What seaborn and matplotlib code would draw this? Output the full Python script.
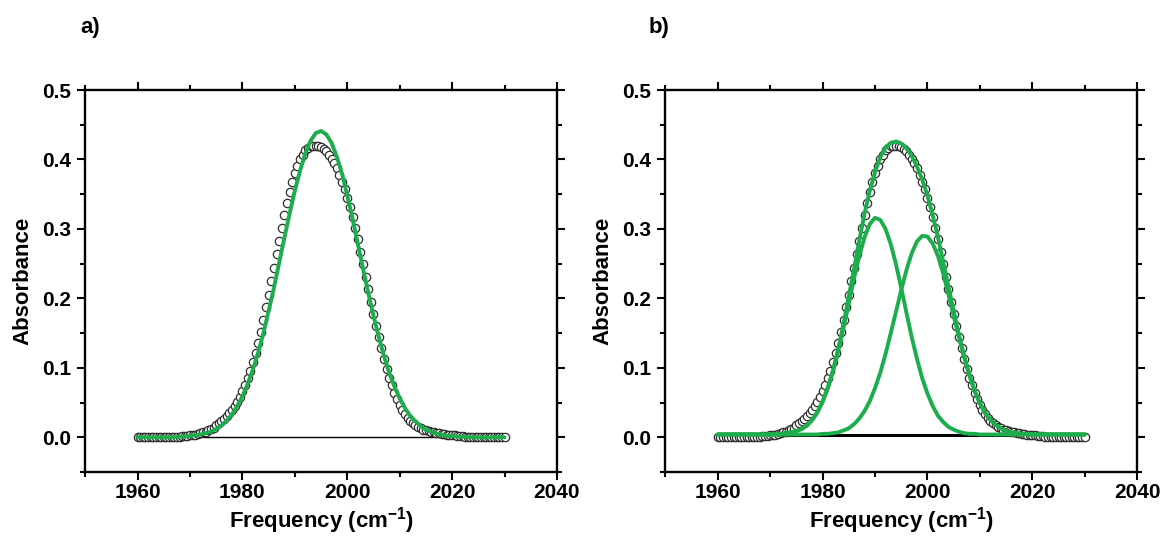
import numpy as np
import matplotlib
matplotlib.use('Agg')
import matplotlib.pyplot as plt
from matplotlib.ticker import MultipleLocator, FormatStrFormatter
import seaborn as sns

# --- data ---
# measured spectrum (open circles), every 0.5 cm-1 from 1960 to 2030
freq_data = np.arange(1960, 2030.5, 0.5)
absorbance = [
    0.000, 0.000, 0.000, 0.000, 0.000, 0.000, 0.000, 0.000, 0.000, 0.000,
    0.000, 0.001, 0.001, 0.001, 0.001, 0.001, 0.001, 0.002, 0.002, 0.002,
    0.003, 0.003, 0.004, 0.005, 0.006, 0.007, 0.008, 0.010, 0.012, 0.014,
    0.017, 0.020, 0.023, 0.026, 0.030, 0.035, 0.040, 0.045, 0.051, 0.058,
    0.066, 0.075, 0.085, 0.096, 0.108, 0.122, 0.136, 0.152, 0.169, 0.187,
    0.205, 0.225, 0.244, 0.264, 0.283, 0.302, 0.320, 0.337, 0.353, 0.367,
    0.380, 0.391, 0.400, 0.407, 0.413, 0.417, 0.419, 0.420, 0.420, 0.419,
    0.418, 0.415, 0.412, 0.407, 0.401, 0.395, 0.387, 0.378, 0.368, 0.357,
    0.345, 0.331, 0.317, 0.301, 0.285, 0.267, 0.249, 0.231, 0.213, 0.195,
    0.178, 0.160, 0.144, 0.128, 0.113, 0.099, 0.086, 0.075, 0.064, 0.055,
    0.047, 0.040, 0.034, 0.028, 0.024, 0.020, 0.017, 0.015, 0.013, 0.011,
    0.010, 0.009, 0.008, 0.007, 0.006, 0.006, 0.005, 0.005, 0.004, 0.004,
    0.003, 0.003, 0.002, 0.002, 0.002, 0.001, 0.001, 0.001, 0.001, 0.001,
    0.001, 0.001, 0.001, 0.001, 0.000, 0.000, 0.000, 0.000, 0.000, 0.000,
    0.000,
]

# fitted curves, every 1 cm-1 from 1960 to 2030
freq_fit = np.arange(1960, 2031, 1)
fit_single = [
    0.000, 0.000, 0.000, 0.000, 0.000, 0.000, 0.000, 0.000, 0.001, 0.001,
    0.002, 0.003, 0.004, 0.006, 0.008, 0.012, 0.017, 0.024, 0.033, 0.045,
    0.059, 0.077, 0.098, 0.122, 0.150, 0.182, 0.215, 0.251, 0.287, 0.322,
    0.355, 0.384, 0.409, 0.427, 0.438, 0.441, 0.436, 0.424, 0.404, 0.379,
    0.348, 0.315, 0.279, 0.243, 0.208, 0.175, 0.145, 0.117, 0.093, 0.073,
    0.056, 0.042, 0.031, 0.023, 0.016, 0.011, 0.008, 0.005, 0.004, 0.002,
    0.002, 0.001, 0.001, 0.000, 0.000, 0.000, 0.000, 0.000, 0.000, 0.000,
    0.000,
]
fit_peak1 = [
    0.004, 0.004, 0.004, 0.004, 0.004, 0.004, 0.004, 0.004, 0.004, 0.004,
    0.004, 0.004, 0.005, 0.006, 0.007, 0.009, 0.012, 0.017, 0.025, 0.036,
    0.051, 0.071, 0.096, 0.125, 0.158, 0.193, 0.229, 0.261, 0.288, 0.307,
    0.316, 0.313, 0.300, 0.278, 0.249, 0.215, 0.179, 0.144, 0.113, 0.085,
    0.063, 0.045, 0.031, 0.022, 0.015, 0.011, 0.008, 0.006, 0.005, 0.005,
    0.004, 0.004, 0.004, 0.004, 0.004, 0.004, 0.004, 0.004, 0.004, 0.004,
    0.004, 0.004, 0.004, 0.004, 0.004, 0.004, 0.004, 0.004, 0.004, 0.004,
    0.004,
]
fit_peak2 = [
    0.004, 0.004, 0.004, 0.004, 0.004, 0.004, 0.004, 0.004, 0.004, 0.004,
    0.004, 0.004, 0.004, 0.004, 0.004, 0.004, 0.004, 0.004, 0.004, 0.004,
    0.005, 0.005, 0.006, 0.007, 0.010, 0.013, 0.019, 0.027, 0.038, 0.052,
    0.071, 0.093, 0.120, 0.150, 0.181, 0.212, 0.241, 0.265, 0.282, 0.290,
    0.289, 0.279, 0.261, 0.236, 0.206, 0.175, 0.144, 0.115, 0.089, 0.067,
    0.049, 0.035, 0.025, 0.018, 0.013, 0.009, 0.007, 0.006, 0.005, 0.005,
    0.004, 0.004, 0.004, 0.004, 0.004, 0.004, 0.004, 0.004, 0.004, 0.004,
    0.004,
]
fit_sum = [
    0.004, 0.004, 0.004, 0.004, 0.004, 0.004, 0.004, 0.004, 0.004, 0.004,
    0.004, 0.004, 0.005, 0.006, 0.007, 0.009, 0.012, 0.017, 0.025, 0.036,
    0.052, 0.072, 0.097, 0.128, 0.164, 0.203, 0.243, 0.284, 0.322, 0.355,
    0.382, 0.403, 0.417, 0.424, 0.426, 0.423, 0.416, 0.405, 0.390, 0.371,
    0.348, 0.320, 0.288, 0.253, 0.217, 0.182, 0.148, 0.117, 0.090, 0.067,
    0.049, 0.035, 0.025, 0.018, 0.013, 0.009, 0.007, 0.006, 0.005, 0.005,
    0.004, 0.004, 0.004, 0.004, 0.004, 0.004, 0.004, 0.004, 0.004, 0.004,
    0.004,
]
baseline_range = [1960, 2030]
baseline_a = 0.0
baseline_b = 0.004

assert len(absorbance) == len(freq_data)
for arr in (fit_single, fit_peak1, fit_peak2, fit_sum):
    assert len(arr) == len(freq_fit)

# --- style ---
sns.set_style('ticks')
plt.rcParams['font.family'] = ['Liberation Sans', 'DejaVu Sans']
plt.rcParams['font.weight'] = 'bold'
plt.rcParams['axes.labelweight'] = 'bold'
plt.rcParams['text.color'] = 'black'
plt.rcParams['axes.labelcolor'] = 'black'
plt.rcParams['xtick.color'] = 'black'
plt.rcParams['ytick.color'] = 'black'
plt.rcParams['mathtext.fontset'] = 'custom'
plt.rcParams['mathtext.rm'] = 'Liberation Sans:bold'
plt.rcParams['mathtext.bf'] = 'Liberation Sans:bold'
plt.rcParams['mathtext.default'] = 'bf'

GREEN = '#1cae4c'
EDGE = '#2e2e2e'

fig = plt.figure(figsize=(11.62, 5.37), dpi=100)
ax_a = fig.add_axes([0.0733, 0.121, 0.406, 0.7114])
ax_b = fig.add_axes([0.5726, 0.121, 0.406, 0.7114])


def style_axes(ax):
    ax.set_xlim(1950, 2040)
    ax.set_ylim(-0.05, 0.5)
    ax.xaxis.set_major_locator(MultipleLocator(20))
    ax.xaxis.set_minor_locator(MultipleLocator(10))
    ax.yaxis.set_major_locator(MultipleLocator(0.1))
    ax.yaxis.set_minor_locator(MultipleLocator(0.05))
    ax.yaxis.set_major_formatter(FormatStrFormatter('%.1f'))
    ax.tick_params(which='both', top=True, right=True, direction='out',
                   width=1.5, color='black', labelcolor='black')
    ax.tick_params(which='major', length=6)
    ax.tick_params(which='minor', length=3.5)
    ax.tick_params(axis='x', labelsize=15, pad=2)
    ax.tick_params(axis='y', labelsize=15, pad=4)
    for sp in ax.spines.values():
        sp.set_visible(True)
        sp.set_linewidth(1.7)
        sp.set_color('black')
    ax.set_xlabel('Frequency (cm$^{-1}$)', fontsize=16, fontweight='bold',
                  color='black')
    ax.set_ylabel('Absorbance', fontsize=16, fontweight='bold', color='black')
    ax.xaxis.label.set_va('center')
    ax.yaxis.label.set_va('center')
    ax.xaxis.set_label_coords(0.5, -0.127)
    ax.yaxis.set_label_coords(-0.132, 0.5)


# --- a) single fit ---
sns.lineplot(x=baseline_range, y=[baseline_a, baseline_a], ax=ax_a,
             color='black', linewidth=1.0, zorder=1)
sns.scatterplot(x=freq_data, y=absorbance, ax=ax_a, s=36, color='white',
                edgecolor=EDGE, linewidth=0.9, zorder=2)
sns.lineplot(x=freq_fit, y=fit_single, ax=ax_a, color=GREEN,
             linewidth=2.8, zorder=3)
style_axes(ax_a)

# --- b) two-component fit ---
sns.lineplot(x=baseline_range, y=[baseline_b, baseline_b], ax=ax_b,
             color='black', linewidth=2.2, zorder=1)
sns.scatterplot(x=freq_data, y=absorbance, ax=ax_b, s=36, color='white',
                edgecolor=EDGE, linewidth=0.9, zorder=2)
for curve in (fit_peak1, fit_peak2, fit_sum):
    sns.lineplot(x=freq_fit, y=curve, ax=ax_b, color=GREEN,
                 linewidth=2.8, zorder=3)
style_axes(ax_b)

fig.text(80 / 1162, 1 - 27 / 537, 'a)', fontsize=16, fontweight='bold',
         ha='left', va='center')
fig.text(649 / 1162, 1 - 27 / 537, 'b)', fontsize=16, fontweight='bold',
         ha='left', va='center')

fig.savefig('out.png', dpi=100, facecolor='white')
